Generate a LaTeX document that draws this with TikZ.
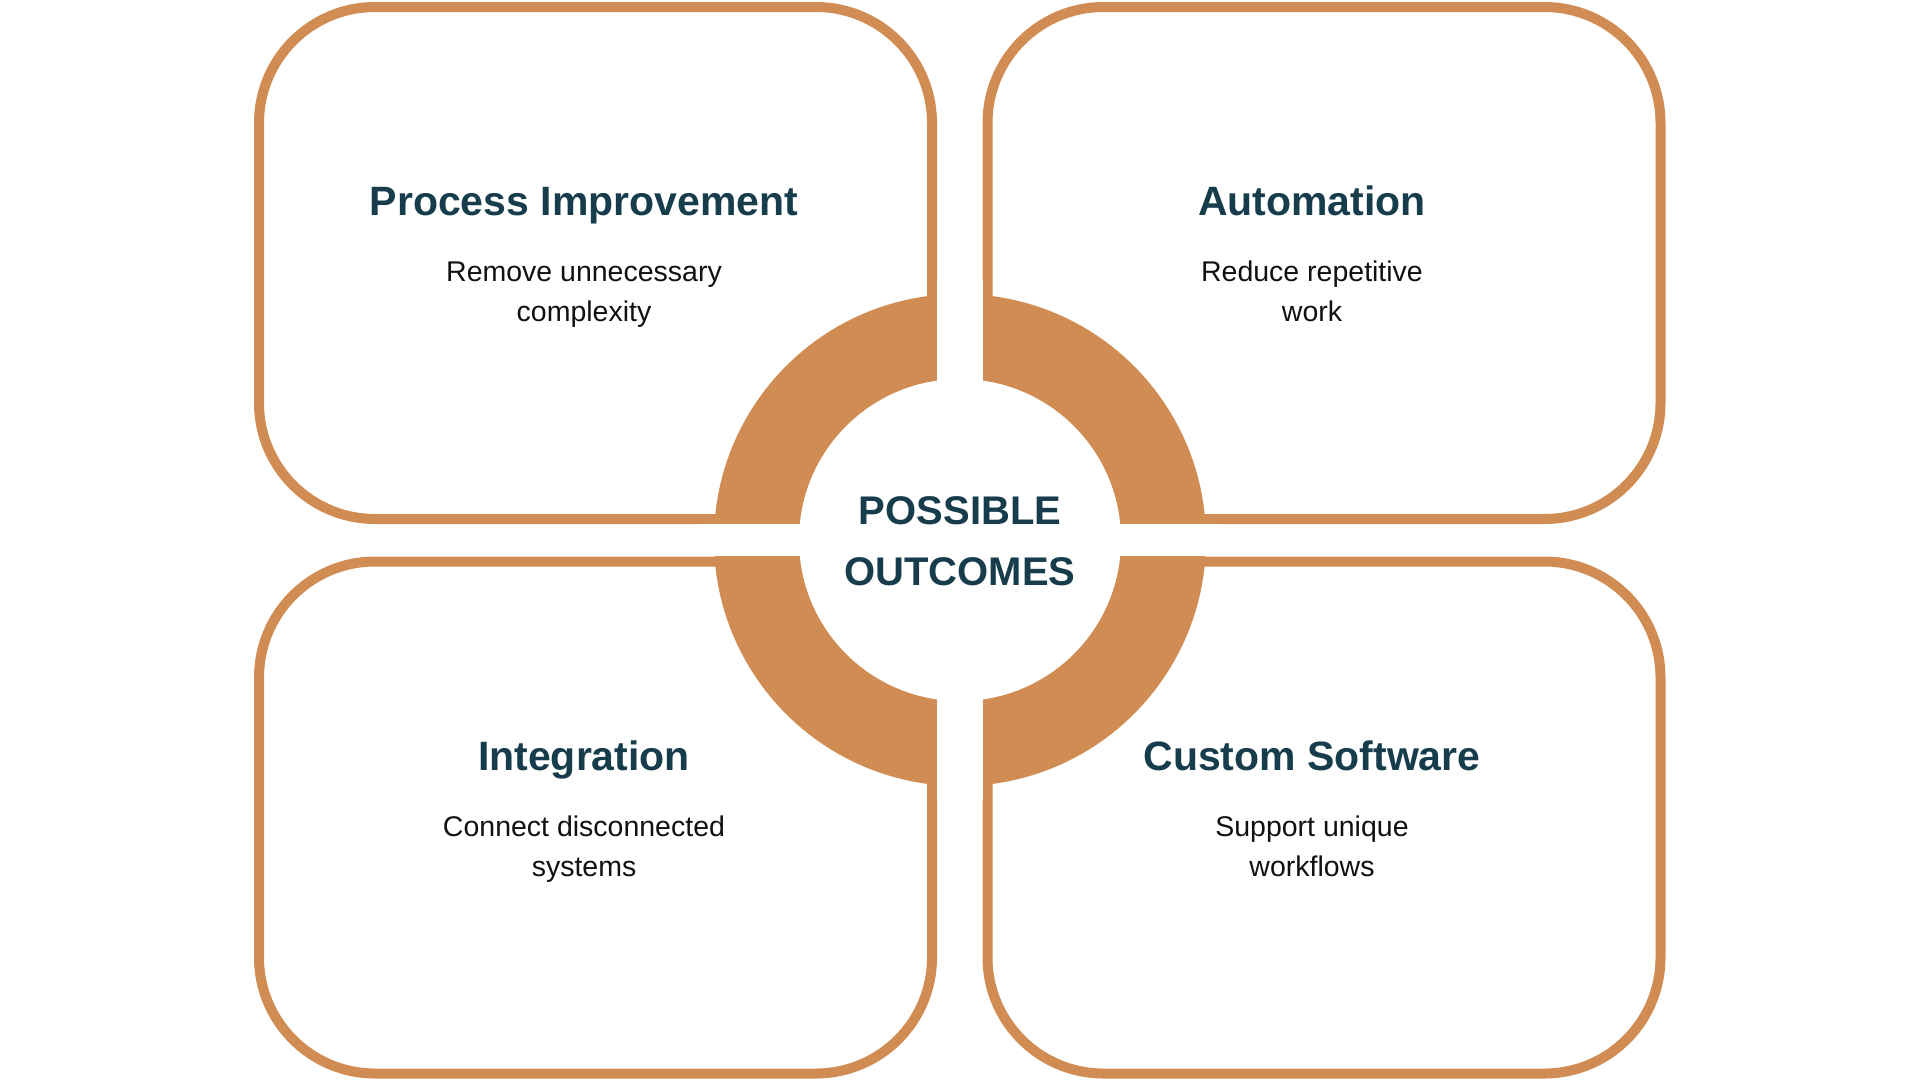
\documentclass[tikz,border=0pt]{standalone}
\usepackage{fontspec}
\setmainfont{Liberation Sans}
\definecolor{ochre}{HTML}{D18C54}
\definecolor{teal}{HTML}{173D4D}
\definecolor{bodyink}{HTML}{111111}
\begin{document}
\begin{tikzpicture}[x=1pt,y=-1pt,
  card/.style={draw=ochre, line width=10pt, rounded corners=116pt,
    minimum width=673pt, minimum height=512pt, inner sep=0pt, outer sep=0pt},
  title/.style={text=teal, font=\fontsize{41}{48}\selectfont\bfseries, anchor=base, inner sep=0pt},
  body/.style={text=bodyink, font=\fontsize{28.5}{39.5}\selectfont, align=center, anchor=base, inner sep=0pt},
  hub/.style={text=teal, font=\fontsize{40}{61}\selectfont\bfseries, align=center, anchor=base, inner sep=0pt}]
\useasboundingbox (0,0) rectangle (1920,1080);
\fill[white] (0,0) rectangle (1920,1080);
% cards
\node[card] (tl) at (595.5,263) {};
\node[card] (tr) at (1324,263) {};
\node[card] (bl) at (595.5,817.5) {};
\node[card] (br) at (1324,817.5) {};
% ring
\fill[ochre] (960,540) circle (246pt);
\fill[white] (960,540) circle (161pt);
\fill[white] (937,280) rectangle (983,800);
\fill[white] (700,524) rectangle (1220,556);
% texts
\node[title] (t1) at (584,215) {Process Improvement};
\node[body]  (b1) at (584,321) {Remove unnecessary\\complexity};
\node[title] (t2) at (1312,215) {Automation};
\node[body]  (b2) at (1312,321) {Reduce repetitive\\work};
\node[title] (t3) at (584,770) {Integration};
\node[body]  (b3) at (584,876) {Connect disconnected\\systems};
\node[title] (t4) at (1312,770) {Custom Software};
\node[body]  (b4) at (1312,876) {Support unique\\workflows};
\node[hub] (hub) at (960,585) {POSSIBLE\\OUTCOMES};
\end{tikzpicture}
\end{document}
